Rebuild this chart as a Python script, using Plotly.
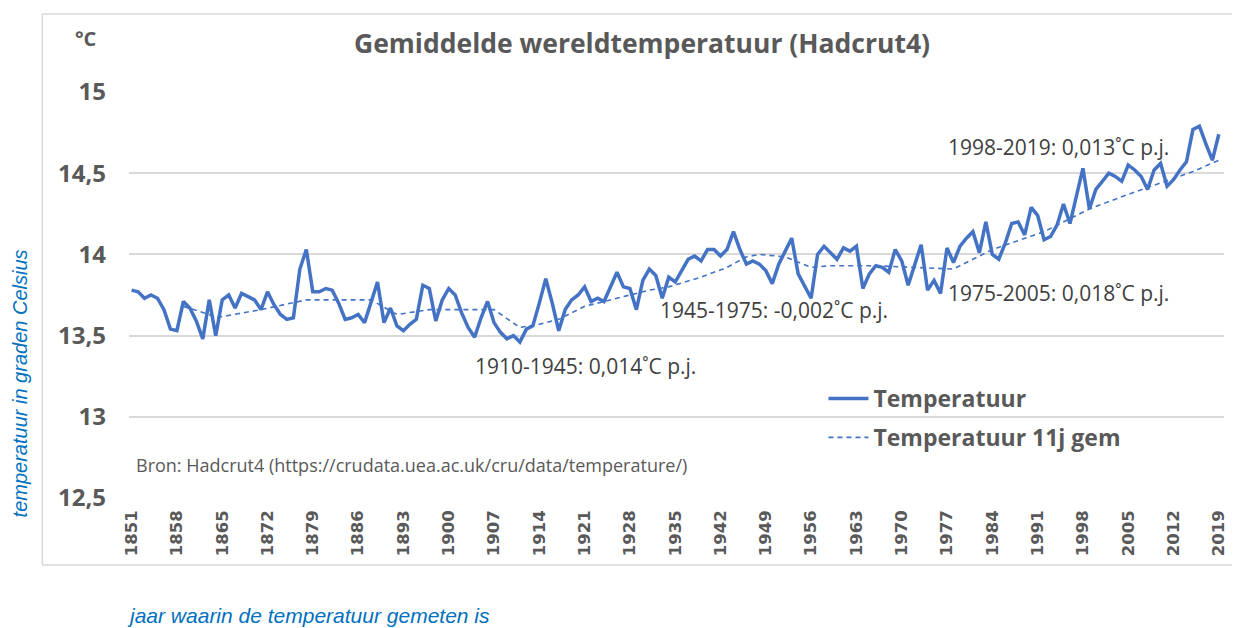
import plotly.graph_objects as go

years = list(range(1851, 2020))
temperatuur = [
    13.78, 13.77, 13.73, 13.75, 13.73, 13.66, 13.54, 13.53, 13.71, 13.67,
    13.59, 13.48, 13.72, 13.50, 13.72, 13.75, 13.67, 13.76, 13.74, 13.72,
    13.66, 13.77, 13.69, 13.63, 13.60, 13.61, 13.91, 14.03, 13.77, 13.77,
    13.79, 13.78, 13.70, 13.60, 13.61, 13.63, 13.58, 13.70, 13.83, 13.58,
    13.67, 13.56, 13.53, 13.57, 13.60, 13.81, 13.79, 13.59, 13.72, 13.79,
    13.75, 13.64, 13.55, 13.49, 13.61, 13.71, 13.58, 13.52, 13.48, 13.50,
    13.46, 13.54, 13.56, 13.70, 13.85, 13.70, 13.53, 13.66, 13.72, 13.75,
    13.80, 13.71, 13.73, 13.71, 13.80, 13.89, 13.80, 13.79, 13.66, 13.84,
    13.91, 13.87, 13.73, 13.86, 13.83, 13.90, 13.97, 13.99, 13.96, 14.03,
    14.03, 13.99, 14.03, 14.14, 14.03, 13.94, 13.96, 13.94, 13.90, 13.82,
    13.94, 14.02, 14.10, 13.88, 13.80, 13.73, 14.00, 14.05, 14.01, 13.97,
    14.04, 14.02, 14.05, 13.79, 13.88, 13.93, 13.92, 13.89, 14.03, 13.96,
    13.81, 13.93, 14.06, 13.78, 13.84, 13.76, 14.04, 13.95, 14.05, 14.10,
    14.14, 14.01, 14.20, 14.00, 13.97, 14.07, 14.19, 14.20, 14.12, 14.29,
    14.24, 14.09, 14.11, 14.18, 14.31, 14.19, 14.36, 14.53, 14.28, 14.40,
    14.45, 14.50, 14.48, 14.45, 14.55, 14.52, 14.48, 14.40, 14.52, 14.56,
    14.42, 14.46, 14.52, 14.57, 14.77, 14.79, 14.68, 14.58, 14.74,
]

gem_years = [1859, 1863, 1864, 1871, 1878, 1888, 1892, 1897, 1907, 1911,
             1914, 1917, 1921, 1924, 1927, 1931, 1934, 1939, 1943, 1946,
             1948, 1952, 1956, 1959, 1966, 1978, 1984, 1992, 1999, 2005,
             2010, 2015, 2019]
gem_values = [13.68, 13.63, 13.61, 13.66, 13.72, 13.72, 13.63, 13.66, 13.66, 13.55,
              13.57, 13.60, 13.68, 13.71, 13.74, 13.78, 13.80, 13.86, 13.92, 13.985,
              14.00, 13.985, 13.92, 13.93, 13.93, 13.91, 14.03, 14.14, 14.28, 14.37,
              14.44, 14.51, 14.58]

x_tick_labels = ["1851", "1858", "1865", "1872", "1879", "1886", "1893", "1900",
                 "1907", "1914", "1921", "1928", "1935", "1942", "1949", "1956",
                 "1963", "1970", "1977", "1984", "1991", "1998", "2005", "2012", "2019"]
y_tick_vals = [12.5, 13, 13.5, 14, 14.5, 15]
y_tick_labels = ["12,5", "13", "13,5", "14", "14,5", "15"]

trend_labels = ["1910-1945: 0,014˚C p.j.", "1945-1975: -0,002˚C p.j.",
                "1975-2005: 0,018˚C p.j.", "1998-2019: 0,013˚C p.j."]

BLUE = "#4472C4"
GRAY = "#595959"
TXT = "#404040"
FONT = "Open Sans"

fig = go.Figure()
fig.add_trace(go.Scatter(
    x=years, y=temperatuur, mode="lines", name="<b>Temperatuur</b>",
    line=dict(color=BLUE, width=3.5), legendgroup="a"))
fig.add_trace(go.Scatter(
    x=gem_years, y=gem_values, mode="lines", name="<b>Temperatuur 11j gem</b>",
    line=dict(color=BLUE, width=1.6, dash="5px,4px"), legendgroup="b"))

OFF = 8  # page body margin
W, H = 1240 - OFF, 628 - OFF
L, R, T, B = 129 - OFF, 1228 - OFF, 92 - OFF, 498 - OFF
pw, ph = R - L, B - T

def px(x):  # x in reference-window pixels
    return (x - OFF - L) / pw

def py(y):
    return (B - (y - OFF)) / ph

annotations = [
    dict(text="<b>Gemiddelde wereldtemperatuur (Hadcrut4)</b>", x=px(644), y=py(43),
         font=dict(size=26.5, color=GRAY, family=FONT)),
    dict(text="<b>°C</b>", x=px(86), y=py(38), font=dict(size=20, color=GRAY, family=FONT)),
    dict(text=trend_labels[0], x=px(587), y=py(366), font=dict(size=21, color=TXT, family=FONT)),
    dict(text=trend_labels[1], x=px(776), y=py(310), font=dict(size=21, color=TXT, family=FONT)),
    dict(text=trend_labels[2], x=px(1062), y=py(293), font=dict(size=21, color=TXT, family=FONT)),
    dict(text=trend_labels[3], x=px(1062), y=py(147), font=dict(size=21, color=TXT, family=FONT)),
    dict(text="Bron: Hadcrut4 (https://crudata.uea.ac.uk/cru/data/temperature/)",
         x=px(134), y=py(465), xanchor="left", font=dict(size=18, color=GRAY, family=FONT)),
    dict(text="<i>temperatuur in graden Celsius</i>", x=px(20), y=py(383), textangle=-90,
         font=dict(size=20, color="#0070C0", family="Liberation Sans")),
    dict(text="<i>jaar waarin de temperatuur gemeten is</i>", x=px(125), y=py(615),
         xanchor="left", font=dict(size=21, color="#0070C0", family="Liberation Sans")),
]
for a in annotations:
    a.setdefault("xanchor", "center")
    a.update(xref="paper", yref="paper", yanchor="middle", showarrow=False)

frame = dict(color="#D9D9D9", width=1.5)
shapes = [
    dict(type="line", xref="paper", yref="paper", x0=px(42), x1=px(1240), y0=py(14), y1=py(14), line=frame),
    dict(type="line", xref="paper", yref="paper", x0=px(42), x1=px(42), y0=py(14), y1=py(565), line=frame),
    dict(type="line", xref="paper", yref="paper", x0=px(42), x1=px(1240), y0=py(565), y1=py(565), line=frame),
]

fig.update_layout(
    width=W, height=H,
    margin=dict(l=L, r=W - R, t=T, b=H - B),
    paper_bgcolor="white", plot_bgcolor="white",
    showlegend=True,
    legend=dict(x=px(826), y=py(377), xanchor="left", yanchor="top",
                font=dict(size=23, color=GRAY, family=FONT), traceorder="grouped",
                tracegroupgap=6, bgcolor="rgba(0,0,0,0)", itemwidth=40),
    annotations=annotations,
    shapes=shapes,
)
fig.update_xaxes(
    range=[1850.6, 2019.8], tickmode="array",
    tickvals=[int(t) for t in x_tick_labels], ticktext=["<b>%s</b>" % t for t in x_tick_labels],
    tickangle=-90, tickfont=dict(size=16.5, color=GRAY, family="DejaVu Sans"),
    showgrid=False, zeroline=False, showline=False, ticks="", ticklabelstandoff=8,
)
fig.update_yaxes(
    range=[12.5, 15], tickmode="array", tickvals=y_tick_vals,
    ticktext=["<b>%s</b>" % t for t in y_tick_labels],
    tickfont=dict(size=24, color=GRAY, family=FONT),
    showgrid=True, gridcolor="#D9D9D9", gridwidth=1.5, zeroline=False, showline=False,
    ticks="", ticklabelstandoff=22,
)

fig.write_html("out.html")
